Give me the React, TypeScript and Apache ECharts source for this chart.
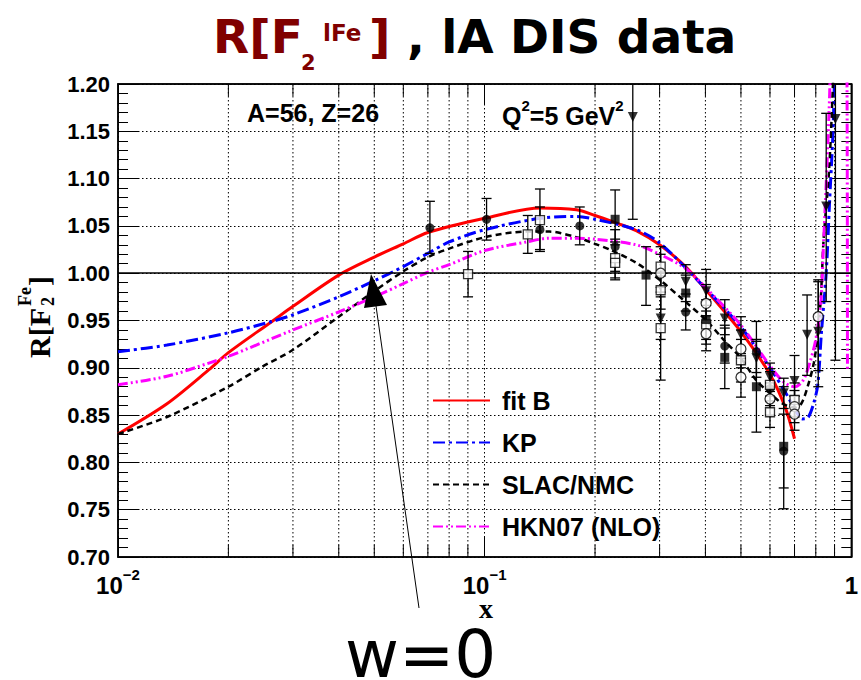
import React, { useEffect, useRef } from 'react';
import * as echarts from 'echarts';

// ---------- axis settings ----------
const xMin = 0.01;
const xMax = 1;
const yMin = 0.7;
const yMax = 1.2;
const yStep = 0.05;
const xGridValues = [0.02, 0.03, 0.04, 0.05, 0.06, 0.07, 0.08, 0.09, 0.2, 0.3, 0.4, 0.5, 0.6, 0.7, 0.8, 0.9];

// ---------- curves [x, R] ----------
const fitB = [
  [0.01, 0.830], [0.0136, 0.862], [0.0177, 0.898], [0.02, 0.916], [0.0263, 0.949], [0.03, 0.965],
  [0.04, 0.998], [0.05, 1.017], [0.06, 1.031], [0.07, 1.043], [0.1, 1.058], [0.1415, 1.069],
  [0.178, 1.067], [0.2, 1.061], [0.229, 1.053], [0.259, 1.045], [0.3, 1.030], [0.353, 1.007],
  [0.4, 0.983], [0.5, 0.938], [0.6, 0.893], [0.659, 0.859], [0.70, 0.825],
];
const kp = [
  [0.01, 0.917], [0.0136, 0.924], [0.02, 0.937], [0.0263, 0.949], [0.03, 0.956], [0.04, 0.975],
  [0.05, 0.992], [0.06, 1.007], [0.07, 1.021], [0.08, 1.033], [0.1, 1.046], [0.1415, 1.058],
  [0.178, 1.060], [0.2, 1.057], [0.259, 1.046], [0.3, 1.032], [0.4, 0.984], [0.5, 0.943],
  [0.6, 0.900], [0.659, 0.875], [0.70, 0.857], [0.735, 0.846], [0.76, 0.847], [0.786, 0.860],
  [0.81, 0.882], [0.828, 0.935], [0.854, 1.0], [0.872, 1.074], [0.89, 1.144], [0.899, 1.2], [0.91, 1.28],
];
const slacNmc = [
  [0.01, 0.830], [0.0136, 0.848], [0.02, 0.880], [0.0247, 0.901], [0.03, 0.919], [0.04, 0.954],
  [0.05, 0.981], [0.06, 1.002], [0.07, 1.017], [0.08, 1.026], [0.1, 1.038], [0.13, 1.044],
  [0.15, 1.044], [0.178, 1.038], [0.2, 1.031], [0.219, 1.025], [0.259, 1.011], [0.3, 0.993],
  [0.35, 0.971], [0.4, 0.951], [0.45, 0.929], [0.5, 0.910], [0.55, 0.887], [0.6, 0.873],
  [0.65, 0.862], [0.70, 0.858], [0.73, 0.862], [0.76, 0.880], [0.79, 0.905], [0.81, 0.935],
  [0.826, 0.975], [0.84, 1.035], [0.87, 1.11], [0.89, 1.195], [0.9, 1.25],
];
const hkn07 = [
  [0.01, 0.882], [0.0136, 0.891], [0.0177, 0.905], [0.02, 0.912], [0.03, 0.940], [0.04, 0.959],
  [0.05, 0.975], [0.06, 0.989], [0.07, 1.001], [0.08, 1.009], [0.1, 1.024], [0.13, 1.033],
  [0.15, 1.037], [0.178, 1.037], [0.2, 1.036], [0.259, 1.030], [0.3, 1.020], [0.353, 1.005],
  [0.4, 0.985], [0.5, 0.945], [0.6, 0.902], [0.654, 0.885], [0.70, 0.880], [0.737, 0.886],
  [0.77, 0.905], [0.80, 0.930], [0.826, 0.970], [0.84, 1.032], [0.855, 1.099], [0.87, 1.173],
  [0.88, 1.23], [0.92, 1.35], [0.96, 1.35], [0.972, 1.25], [0.976, 0.897],
];

// ---------- data points [x, R, low, high] ----------
const filledCircles = [
  [0.0709, 1.048, 1.021, 1.076], [0.1012, 1.057, 1.035, 1.079], [0.1415, 1.046, 1.023, 1.070],
  [0.1817, 1.050, 1.030, 1.070], [0.2269, 1.028, 1.002, 1.046], [0.3535, 0.959, 0.940, 0.978],
  [0.4517, 0.923, 0.905, 0.942], [0.551, 0.917, 0.895, 0.949], [0.60, 0.878, 0.860, 0.896],
  [0.654, 0.812, 0.773, 0.851],
];
const openSquares = [
  [0.0901, 0.999, 0.975, 1.023], [0.1311, 1.041, 1.021, 1.061], [0.1415, 1.056, 1.025, 1.089],
  [0.2269, 1.016, 0.995, 1.036], [0.2269, 1.011, 0.993, 1.030], [0.302, 1.007, 0.985, 1.028],
  [0.302, 0.982, 0.962, 1.000], [0.302, 0.942, 0.887, 0.997], [0.4018, 0.946, 0.925, 0.966],
  [0.5, 0.908, 0.885, 0.930], [0.60, 0.882, 0.865, 0.899], [0.60, 0.853, 0.837, 0.870],
  [0.70, 0.866, 0.848, 0.884],
];
const filledSquares = [
  [0.2269, 1.057, 1.033, 1.088], [0.2755, 0.998, 0.966, 1.028], [0.3535, 0.979, 0.960, 0.998],
  [0.4018, 0.951, 0.930, 0.972], [0.4517, 0.911, 0.878, 0.945], [0.551, 0.880, 0.832, 0.928],
  [0.654, 0.817, 0.751, 0.880],
];
const openCircles = [
  [0.302, 1.000, 0.980, 1.020], [0.4018, 0.968, 0.948, 0.988], [0.4018, 0.936, 0.918, 0.955],
  [0.5, 0.920, 0.900, 0.940], [0.5, 0.890, 0.869, 0.910], [0.60, 0.867, 0.850, 0.884],
  [0.70, 0.859, 0.842, 0.876], [0.70, 0.851, 0.834, 0.870], [0.8124, 0.954, 0.897, 0.993],
];
const triangles = [
  [0.2535, 1.165, 1.057, 1.27], [0.302, 0.952, 0.930, 0.975], [0.3535, 0.991, 0.970, 1.009],
  [0.4018, 0.981, 0.960, 1.004], [0.4517, 0.952, 0.935, 0.972], [0.5, 0.935, 0.915, 0.954],
  [0.551, 0.910, 0.890, 0.930], [0.60, 0.890, 0.875, 0.905], [0.654, 0.873, 0.857, 0.889],
  [0.70, 0.886, 0.870, 0.913], [0.7575, 0.935, 0.892, 0.977], [0.8124, 0.938, 0.880, 0.991],
  [0.854, 1.0705, 0.970, 1.169], [0.905, 1.163, 0.908, 1.25],
];

const SANS = 'Liberation Sans';
const DEJA = 'DejaVu Sans';
const SERIF = 'Liberation Serif';
const DARKRED = '#800000';

function txt(text: string, x: number, y: number, size: number, family: string, weight: string, fill: string, align = 'left') {
  return {
    type: 'text',
    x,
    y,
    style: {
      text,
      fill,
      fontSize: size,
      fontFamily: family,
      fontWeight: weight,
      align,
      textAlign: align,
      verticalAlign: 'middle',
      textVerticalAlign: 'middle',
    },
    z: 100,
  };
}

export default function App() {
  const ref = useRef<HTMLDivElement>(null);
  useEffect(() => {
    document.body.style.margin = '0';
    const chart = echarts.init(ref.current as HTMLDivElement, null, { renderer: 'svg' });

    const allPoints = [...filledCircles, ...openSquares, ...filledSquares, ...openCircles, ...triangles];

    const lineSeries = (name: string, data: number[][], color: string, width: number, type: any) => ({
      name,
      type: 'line',
      data,
      showSymbol: false,
      symbol: 'none',
      smooth: 0.3,
      clip: true,
      lineStyle: { color, width, type },
      itemStyle: { color },
      z: 3,
    });

    const markerSeries = (name: string, data: number[][], symbol: string, size: number, filled: boolean, rotate = 0) => ({
      name,
      type: 'scatter',
      data: data.map((d) => [d[0], d[1]]),
      symbol,
      symbolSize: size,
      symbolRotate: rotate,
      itemStyle: filled
        ? { color: '#000' }
        : { color: '#fff', borderColor: '#000', borderWidth: 1.3 },
      clip: true,
      z: 6,
    });

    const supRich = {
      m: { fontFamily: SANS, fontWeight: 'bold', fontSize: 25, color: '#000', lineHeight: 30, verticalAlign: 'bottom' },
      s: { fontFamily: SANS, fontWeight: 'bold', fontSize: 15, color: '#000', lineHeight: 15, verticalAlign: 'top' },
    };

    const option: any = {
      animation: false,
      backgroundColor: '#fff',
      grid: {
        left: 118,
        right: 4,
        top: 84,
        bottom: 123,
        show: true,
        borderColor: '#000',
        borderWidth: 1.5,
        containLabel: false,
      },
      legend: {
        data: ['fit B', 'KP', 'SLAC/NMC', 'HKN07 (NLO)'],
        orient: 'vertical',
        left: 432,
        top: 388,
        padding: 0,
        itemWidth: 57,
        itemHeight: 14,
        itemGap: 17,
        selectedMode: false,
        itemStyle: { opacity: 0 },
        textStyle: {
          fontFamily: SANS,
          fontWeight: 'bold',
          fontSize: 25,
          color: '#000',
          padding: [0, 0, 0, 7],
        },
      },
      xAxis: [
        {
          type: 'log',
          logBase: 10,
          min: xMin,
          max: xMax,
          position: 'bottom',
          axisLine: { show: true, lineStyle: { color: '#000', width: 1.5 } },
          axisTick: { show: true, inside: true, length: 20, lineStyle: { color: '#000', width: 1 } },
          axisLabel: {
            margin: 10,
            formatter: (v: number) => {
              const e = Math.round(Math.log10(v));
              if (e === 0) return '{b|1}';
              return '{b|10}{e|' + (e < 0 ? '\u2212' : '') + Math.abs(e) + '}';
            },
            rich: {
              b: { fontFamily: SANS, fontWeight: 'bold', fontSize: 24, color: '#000', lineHeight: 30, verticalAlign: 'bottom' },
              e: { fontFamily: SANS, fontWeight: 'bold', fontSize: 15, color: '#000', lineHeight: 15, verticalAlign: 'top' },
            },
          },
          splitLine: { show: true, lineStyle: { color: '#000', width: 1, type: [1.5, 2.5] } },
        },
        {
          type: 'log',
          logBase: 10,
          min: xMin,
          max: xMax,
          position: 'top',
          axisLine: { show: true, lineStyle: { color: '#000', width: 1.5 } },
          axisTick: { show: true, inside: true, length: 20, lineStyle: { color: '#000', width: 1 } },
          axisLabel: { show: false },
          splitLine: { show: false },
        },
      ],
      yAxis: [
        {
          type: 'value',
          min: yMin,
          max: yMax,
          interval: yStep,
          position: 'left',
          axisLine: { show: true, lineStyle: { color: '#000', width: 1.5 } },
          axisTick: { show: true, inside: true, length: 20, lineStyle: { color: '#000', width: 1 } },
          minorTick: { show: true, splitNumber: 5, length: 10, lineStyle: { color: '#000', width: 1 } },
          axisLabel: {
            margin: 8,
            fontFamily: SANS,
            fontWeight: 'bold',
            fontSize: 22,
            color: '#000',
            formatter: (v: number) => v.toFixed(2),
          },
          splitLine: { show: true, lineStyle: { color: '#000', width: 1, type: [1.5, 2.5] } },
        },
        {
          type: 'value',
          min: yMin,
          max: yMax,
          interval: yStep,
          position: 'right',
          axisLine: { show: true, lineStyle: { color: '#000', width: 1.5 } },
          axisTick: { show: true, inside: true, length: 20, lineStyle: { color: '#000', width: 1 } },
          minorTick: { show: true, splitNumber: 5, length: 10, lineStyle: { color: '#000', width: 1 } },
          axisLabel: { show: false },
          splitLine: { show: false },
        },
      ],
      series: [
        {
          name: 'xgrid',
          type: 'custom',
          data: xGridValues.map((v) => [v, yMin]),
          encode: { x: 0, y: 1 },
          silent: true,
          z: 1,
          renderItem: (params: any, api: any) => {
            const v = api.value(0);
            const top = api.coord([v, yMax]);
            const bot = api.coord([v, yMin]);
            return {
              type: 'group',
              children: [
                { type: 'line', shape: { x1: top[0], y1: top[1], x2: bot[0], y2: bot[1] }, style: { stroke: '#000', lineWidth: 1, lineDash: [1.5, 2.5] } },
                { type: 'line', shape: { x1: bot[0], y1: bot[1], x2: bot[0], y2: bot[1] - 12 }, style: { stroke: '#000', lineWidth: 1 } },
                { type: 'line', shape: { x1: top[0], y1: top[1], x2: top[0], y2: top[1] + 12 }, style: { stroke: '#000', lineWidth: 1 } },
              ],
            };
          },
        },
        {
          ...lineSeries('fit B', fitB, '#ff0000', 3, 'solid'),
          markLine: {
            silent: true,
            symbol: 'none',
            label: { show: false },
            lineStyle: { color: '#000', width: 1.6, type: 'solid' },
            data: [{ yAxis: 1.0 }],
          },
        },
        lineSeries('KP', kp, '#0000ff', 3, [12, 4, 3, 4]),
        lineSeries('SLAC/NMC', slacNmc, '#000000', 2.5, [6, 4]),
        lineSeries('HKN07 (NLO)', hkn07, '#ff00ff', 3, [10, 3, 2, 3, 2, 3]),
        {
          name: 'errors',
          type: 'custom',
          data: allPoints,
          encode: { x: 0, y: 1 },
          clip: true,
          silent: true,
          z: 5,
          renderItem: (params: any, api: any) => {
            const x = api.value(0);
            const y = api.value(1);
            const lo = api.value(2);
            const hi = api.value(3);
            const pLo = api.coord([x, lo]);
            const pHi = api.coord([x, hi]);
            const children: any[] = [
              { type: 'line', shape: { x1: pLo[0], y1: pLo[1], x2: pHi[0], y2: pHi[1] }, style: { stroke: '#000', lineWidth: 1.3 } },
              { type: 'line', shape: { x1: pLo[0] - 5, y1: pLo[1], x2: pLo[0] + 5, y2: pLo[1] }, style: { stroke: '#000', lineWidth: 1.3 } },
            ];
            if (hi > y) {
              children.push({ type: 'line', shape: { x1: pHi[0] - 5, y1: pHi[1], x2: pHi[0] + 5, y2: pHi[1] }, style: { stroke: '#000', lineWidth: 1.3 } });
            }
            return { type: 'group', children };
          },
        },
        markerSeries('filled circles', filledCircles, 'circle', 9, true),
        markerSeries('open squares', openSquares, 'rect', 9, false),
        markerSeries('filled squares', filledSquares, 'rect', 9, true),
        markerSeries('open circles', openCircles, 'circle', 10, false),
        markerSeries('triangles', triangles, 'triangle', 10, true, 180),
      ],
      graphic: [
        // title
        txt('R[F', 213, 36, 47, DEJA, 'bold', DARKRED),
        txt('2', 301, 63, 21, DEJA, 'bold', DARKRED),
        txt('lFe', 323, 33, 23, DEJA, 'bold', DARKRED),
        txt(']', 369, 36, 47, DEJA, 'bold', DARKRED),
        txt(', lA DIS data', 407, 36, 47, DEJA, 'bold', '#000'),
        // annotations
        txt('A=56, Z=26', 247, 113, 25, SANS, 'bold', '#000'),
        {
          type: 'text',
          x: 502,
          y: 113,
          style: {
            text: '{m|Q}{s|2}{m|=5 GeV}{s|2}',
            rich: supRich,
            align: 'left',
            textAlign: 'left',
            verticalAlign: 'middle',
            textVerticalAlign: 'middle',
          },
          z: 100,
        },
        // x axis title
        txt('x', 486, 608, 28, SERIF, 'bold', '#000', 'center'),
        // y axis title
        {
          type: 'group',
          x: 35,
          y: 358,
          rotation: Math.PI / 2,
          children: [
            txt('R[F', 0, 4, 30, SERIF, 'bold', '#000'),
            txt('2', 52, 13, 18, SERIF, 'bold', '#000'),
            txt('Fe', 52, -10, 18, SERIF, 'bold', '#000'),
            txt(']', 72, 4, 30, SERIF, 'bold', '#000'),
          ],
        },
        // w=0 annotation
        txt('w=0', 345, 654, 66, DEJA, 'normal', '#000'),
        {
          type: 'line',
          shape: { x1: 419, y1: 608, x2: 376, y2: 306 },
          style: { stroke: '#000', lineWidth: 1 },
          z: 100,
        },
        {
          type: 'polygon',
          shape: { points: [[371, 274], [364, 308], [387, 305]] },
          style: { fill: '#000' },
          z: 100,
        },
      ],
    };

    chart.setOption(option);
    return () => chart.dispose();
  }, []);

  return <div ref={ref} style={{ width: 861, height: 680 }} />;
}
